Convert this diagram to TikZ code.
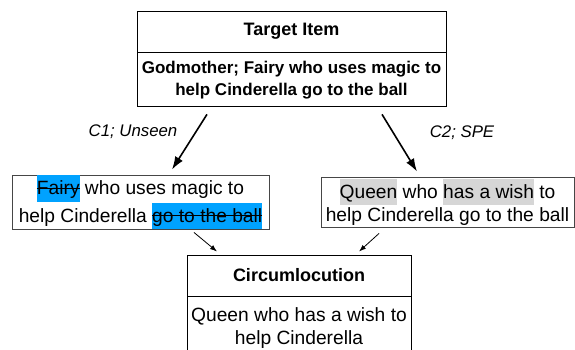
\documentclass[tikz,border=0pt]{standalone}
\usepackage{fontspec}
\setmainfont{Liberation Sans}
\usetikzlibrary{arrows.meta,calc}

\definecolor{hlblue}{RGB}{0,162,255}
\definecolor{hlgray}{RGB}{214,214,214}
\definecolor{framegray}{RGB}{70,70,70}

% highlighted words: a coloured band behind the text
\newcommand\hlstrut{\vrule height 1.02em depth 0.36em width 0pt}
\newcommand\graymark[1]{{\setlength\fboxsep{0pt}\colorbox{hlgray}{\hlstrut#1}}}
\newsavebox\strikebox
\newcommand\bluestrike[1]{\sbox\strikebox{#1}{\setlength\fboxsep{0pt}\colorbox{hlblue}{\hlstrut\rlap{\usebox\strikebox}\rule[0.3em]{\wd\strikebox}{1.3pt}}}}

\tikzset{
  cell/.style={draw, line width=0.9pt, inner sep=0pt, align=center},
  titlefont/.style={font=\fontsize{18}{22}\selectfont\bfseries},
  boldbody/.style={font=\fontsize{17}{22}\selectfont\bfseries},
  plainbody/.style={font=\fontsize{19.2}{23}\selectfont},
  edgelabel/.style={font=\fontsize{16.8}{20}\selectfont\itshape},
  bigarrow/.style={line width=1.6pt, -{Latex[length=13pt,width=9pt]}},
  smallarrow/.style={line width=0.8pt, -{Latex[length=7pt,width=5pt]}},
}

\begin{document}
\begin{tikzpicture}[x=1pt,y=1pt]
\useasboundingbox (0,0) rectangle (575,-349);

% source item
\node[cell, titlefont, minimum width=309pt, minimum height=41pt] (tgt) at (291.5,-31.5) {Target Item};
\node[cell, boldbody, minimum width=309pt, minimum height=54pt, anchor=north] (tgtbody) at (tgt.south)
  {Godmother; Fairy who uses magic to\\help Cinderella go to the ball};

% the two candidate descriptions
\node[cell, draw=framegray, plainbody, minimum width=257pt, minimum height=50pt] (left) at (140.5,-202)
  {\bluestrike{Fairy} who uses magic to\\help Cinderella \bluestrike{go to the ball}};
\node[cell, draw=framegray, plainbody, minimum width=253pt, minimum height=50pt] (right) at (447.5,-202)
  {\graymark{Queen} who \graymark{has a wish} to\\help Cinderella go to the ball};

% resulting circumlocution (its lower edge runs past the page)
\node[cell, titlefont, minimum width=224pt, minimum height=41pt] (circ) at (299,-275.5) {Circumlocution};
\node[cell, plainbody, minimum width=224pt, minimum height=63pt, anchor=north] (circbody) at (circ.south)
  {Queen who has a wish to\\help Cinderella};

% connectors
\draw[bigarrow] ($(tgtbody.south)+(-84.5,-7)$) -- ($(left.north)+(31.5,5)$);
\draw[bigarrow] ($(tgtbody.south)+(90.5,-7)$) -- ($(right.north)+(-30.5,5)$);
\draw[smallarrow] ($(left.south)+(53.5,-3)$) -- ($(circ.north)+(-82,3)$);
\draw[smallarrow] ($(right.south)+(-68.5,-6)$) -- ($(circ.north)+(60,3)$);

\node[edgelabel] (lblone) at (133,-132) {C1; Unseen};
\node[edgelabel] (lbltwo) at (462,-133) {C2; SPE};
\end{tikzpicture}
\end{document}
